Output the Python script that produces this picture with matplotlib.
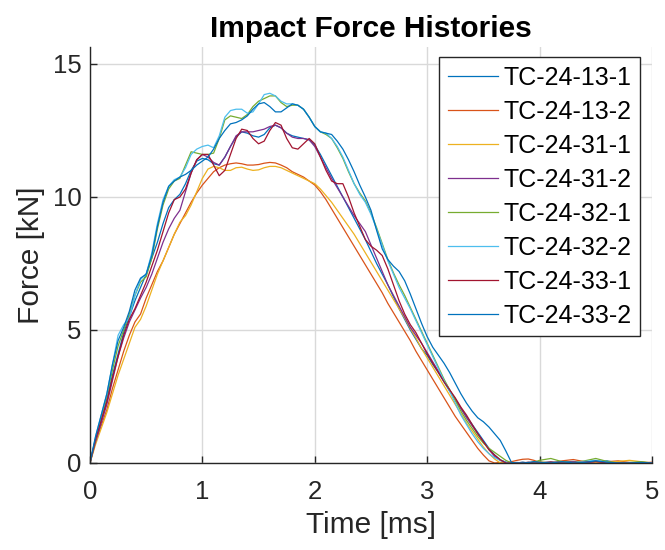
import numpy as np
import matplotlib
matplotlib.use('Agg')
import matplotlib.pyplot as plt

plt.rcParams['font.family'] = ['Liberation Sans', 'DejaVu Sans']

# time base [ms]: 0.05 ms steps up to 3.95, then 0.1 ms steps to 5.0
time_ms = np.round(np.concatenate([np.arange(0, 3.951, 0.05), np.arange(4.0, 5.001, 0.1)]), 2)

labels = ['TC-24-13-1', 'TC-24-13-2', 'TC-24-31-1', 'TC-24-31-2',
          'TC-24-32-1', 'TC-24-32-2', 'TC-24-33-1', 'TC-24-33-2']
colors = ['#0072BD', '#D95319', '#EDB120', '#7E2F8E',
          '#77AC30', '#4DBEEE', '#A2142F', '#0072BD']

tc_13_1 = [0, 0.9, 1.6, 2.4, 3.3, 4.1, 4.9, 5.5, 6.1, 6.6,
           7.1, 7.7, 8.3, 9.0, 9.6, 9.9, 10.1, 10.5, 11.0, 11.35,
           11.45, 11.4, 11.25, 11.2, 11.5, 11.9, 12.25, 12.45, 12.4, 12.3,
           12.25, 12.35, 12.6, 12.7, 12.6, 12.4, 12.3, 12.25, 12.2, 12.15,
           11.95, 11.6, 11.2, 10.8, 10.4, 10.0, 9.6, 9.2, 8.8, 8.4,
           7.95, 7.5, 7.1, 6.7, 6.25, 5.8, 5.4, 5.0, 4.65, 4.3,
           4.05, 3.7, 3.4, 3.05, 2.7, 2.4, 2.05, 1.75, 1.45, 1.15,
           0.85, 0.55, 0.3, 0.12, 0.03, 0.0, 0.02, 0.0, 0.0, 0.04,
           0.0, 0.0, 0.03, 0.06, 0.0, 0.05, 0.08, 0.0, 0.0, 0.0, 0.0]

tc_13_2 = [0, 0.8, 1.4, 2.0, 2.8, 3.5, 4.2, 4.8, 5.3, 5.6,
           6.2, 6.7, 7.2, 7.6, 8.1, 8.6, 9.0, 9.4, 9.8, 10.15,
           10.45, 10.7, 10.95, 11.1, 11.2, 11.25, 11.28, 11.25, 11.2, 11.2,
           11.22, 11.27, 11.3, 11.28, 11.2, 11.1, 10.95, 10.85, 10.75, 10.6,
           10.45, 10.2, 9.9, 9.55, 9.2, 8.85, 8.5, 8.15, 7.8, 7.45,
           7.1, 6.75, 6.4, 6.0, 5.65, 5.3, 4.95, 4.6, 4.2, 3.85,
           3.5, 3.15, 2.8, 2.45, 2.1, 1.75, 1.45, 1.15, 0.85, 0.55,
           0.3, 0.08, 0.0, 0.02, 0.0, 0.05, 0.1, 0.14, 0.15, 0.1,
           0.02, 0.0, 0.08, 0.13, 0.05, 0.0, 0.05, 0.08, 0.02, 0.0, 0.03]

tc_31_1 = [0, 0.7, 1.3, 1.9, 2.6, 3.3, 3.9, 4.5, 5.1, 5.4,
           5.9, 6.5, 7.1, 7.6, 8.1, 8.6, 9.05, 9.3, 9.7, 10.2,
           10.7, 11.05, 11.15, 11.1, 11.0, 11.0, 11.1, 11.12, 11.05, 11.0,
           11.02, 11.1, 11.15, 11.15, 11.1, 11.0, 10.9, 10.8, 10.7, 10.6,
           10.5, 10.3, 10.05, 9.8, 9.5, 9.2, 8.9, 8.6, 8.25, 7.9,
           7.55, 7.2, 6.85, 6.5, 6.15, 5.8, 5.45, 5.05, 4.7, 4.3,
           3.95, 3.6, 3.25, 2.9, 2.55, 2.2, 1.85, 1.5, 1.2, 0.9,
           0.6, 0.35, 0.15, 0.0, 0.0, 0.02, 0.0, 0.0, 0.0, 0.03,
           0.05, 0.0, 0.0, 0.03, 0.0, 0.0, 0.02, 0.06, 0.1, 0.05, 0.0]

tc_31_2 = [0, 0.8, 1.5, 2.2, 3.1, 4.0, 4.7, 5.3, 5.75, 6.2,
           6.6, 7.1, 7.7, 8.3, 8.8, 9.2, 9.5, 10.2, 10.9, 11.4,
           11.6, 11.5, 11.3, 11.2, 11.5, 11.9, 12.3, 12.45, 12.45, 12.45,
           12.5, 12.55, 12.65, 12.7, 12.6, 12.4, 12.25, 12.2, 12.2, 12.15,
           11.9, 11.5, 11.1, 10.7, 10.35, 10.0, 9.65, 9.3, 9.0, 8.7,
           8.2, 7.7, 7.2, 6.7, 6.3, 5.9, 5.5, 5.1, 4.8, 4.5,
           4.15, 3.8, 3.45, 3.1, 2.75, 2.4, 2.05, 1.7, 1.4, 1.1,
           0.8, 0.5, 0.25, 0.1, 0.02, 0.0, 0.0, 0.03, 0.0, 0.0,
           0.02, 0.0, 0.0, 0.04, 0.0, 0.06, 0.02, 0.0, 0.0, 0.03, 0.0]

tc_32_1 = [0, 0.9, 1.7, 2.5, 3.5, 4.4, 5.0, 5.6, 6.3, 6.8,
           7.0, 7.7, 8.8, 9.7, 10.3, 10.6, 10.7, 11.2, 11.7, 11.65,
           11.6, 11.6, 11.65, 12.2, 12.9, 13.05, 13.0, 12.95, 13.1, 13.4,
           13.6, 13.7, 13.8, 13.8, 13.55, 13.4, 13.45, 13.45, 13.3, 13.0,
           12.65, 12.45, 12.35, 12.2, 11.85, 11.45, 10.95, 10.5, 10.15, 9.85,
           9.4, 8.85, 8.25, 7.65, 7.15, 6.7, 6.3, 5.85, 5.4, 4.95,
           4.5, 4.05, 3.6, 3.15, 2.75, 2.35, 1.95, 1.6, 1.3, 1.0,
           0.75, 0.55, 0.4, 0.25, 0.1, 0.0, 0.0, 0.02, 0.0, 0.03,
           0.1, 0.17, 0.05, 0.0, 0.08, 0.17, 0.06, 0.0, 0.02, 0.05, 0.0]

tc_32_2 = [0, 1.0, 1.8, 2.6, 3.7, 4.8, 5.2, 5.45, 6.3, 6.9,
           7.1, 7.9, 9.0, 9.9, 10.4, 10.65, 10.75, 11.1, 11.6, 11.8,
           11.9, 11.95, 11.85, 12.3, 13.0, 13.25, 13.3, 13.3, 13.15, 13.2,
           13.5, 13.85, 13.9, 13.8, 13.6, 13.5, 13.5, 13.45, 13.3, 13.0,
           12.65, 12.45, 12.4, 12.2, 11.9, 11.5, 11.0, 10.5, 10.1, 9.8,
           9.35, 8.8, 8.2, 7.6, 7.1, 6.6, 6.2, 5.8, 5.35, 4.9,
           4.45, 4.0, 3.55, 3.1, 2.7, 2.25, 1.8, 1.45, 1.1, 0.8,
           0.55, 0.35, 0.2, 0.1, 0.02, 0.0, 0.0, 0.03, 0.0, 0.0,
           0.0, 0.05, 0.0, 0.0, 0.06, 0.1, 0.02, 0.0, 0.0, 0.0, 0.0]

tc_33_1 = [0, 0.9, 1.6, 2.3, 3.2, 4.0, 4.8, 5.4, 5.8, 6.3,
           6.8, 7.4, 8.0, 8.7, 9.4, 9.9, 10.0, 10.3, 10.9, 11.4,
           11.6, 11.6, 11.2, 10.8, 11.0, 11.6, 12.2, 12.55, 12.5, 12.2,
           12.0, 12.1, 12.5, 12.8, 12.7, 12.2, 11.85, 11.8, 12.0, 12.2,
           12.0, 11.5, 11.0, 10.6, 10.5, 10.5, 10.0, 9.4, 8.9, 8.4,
           8.15, 8.0, 7.8, 7.3, 6.7, 6.1, 5.6, 5.2, 4.9, 4.5,
           4.1, 3.75, 3.4, 3.05, 2.75, 2.45, 2.1, 1.8, 1.45, 1.1,
           0.8, 0.5, 0.3, 0.12, 0.0, 0.0, 0.0, 0.0, 0.03, 0.0,
           0.0, 0.04, 0.0, 0.0, 0.03, 0.06, 0.0, 0.0, 0.0, 0.0, 0.0]

tc_33_2 = [0, 1.0, 1.8, 2.6, 3.7, 4.6, 5.1, 5.7, 6.5, 6.95,
           7.1, 7.8, 8.9, 9.8, 10.4, 10.6, 10.75, 10.85, 11.0, 11.2,
           11.35, 11.5, 11.8, 12.2, 12.5, 12.75, 12.8, 12.9, 13.05, 13.3,
           13.5, 13.55, 13.4, 13.2, 13.2, 13.35, 13.5, 13.45, 13.3, 13.0,
           12.65, 12.45, 12.4, 12.35, 12.1, 11.8, 11.4, 10.95, 10.45, 10.0,
           9.5, 8.75, 8.05, 7.65, 7.4, 7.2, 6.85, 6.35, 5.8, 5.25,
           4.75, 4.35, 4.05, 3.75, 3.4, 3.0, 2.6, 2.25, 1.95, 1.7,
           1.55, 1.35, 1.1, 0.85, 0.45, 0.02, 0.0, 0.0, 0.02, 0.05,
           0.03, 0.0, 0.05, 0.0, 0.02, 0.08, 0.03, 0.0, 0.0, 0.02, 0.0]

series = [tc_13_1, tc_13_2, tc_31_1, tc_31_2, tc_32_1, tc_32_2, tc_33_1, tc_33_2]

DARK = '#262626'

fig = plt.figure(figsize=(6.65, 5.5), dpi=100)
ax = fig.add_axes([0.1353, 0.1582, 0.8451, 0.7564])

for vals, lab, col in zip(series, labels, colors):
  ax.plot(time_ms, vals, color=col, lw=0.9, label=lab)

ax.set_xlim(0, 5)
ax.set_ylim(0, 15.64)
ax.set_xticks([0, 1, 2, 3, 4, 5])
ax.set_yticks([0, 5, 10, 15])

ax.grid(True, color='#d9d9d9', lw=1.0)
ax.set_axisbelow(True)
for side in ['top', 'right']:
  ax.spines[side].set_visible(False)
for side in ['left', 'bottom']:
  ax.spines[side].set_color(DARK)
  ax.spines[side].set_linewidth(1.0)

ax.tick_params(direction='in', length=5, width=1, colors=DARK, labelsize=18.5, labelcolor=DARK)
ax.tick_params(axis='x', pad=12)
ax.tick_params(axis='y', pad=6)

ax.set_xlabel('Time [ms]', fontsize=21.5, color=DARK, labelpad=5)
ax.set_ylabel('Force [kN]', fontsize=21.5, color=DARK, labelpad=6)
ax.set_title('Impact Force Histories', fontsize=21.5, fontweight='bold', pad=7)

leg = ax.legend(loc='upper right', bbox_to_anchor=(0.9786, 0.976), borderaxespad=0,
                fontsize=18, frameon=True, fancybox=False, framealpha=1,
                handlelength=2.0, handletextpad=0.2, labelspacing=0.4, borderpad=0.35)
leg.get_frame().set_edgecolor(DARK)
leg.get_frame().set_linewidth(1.0)

fig.savefig('out.png', dpi=100)
